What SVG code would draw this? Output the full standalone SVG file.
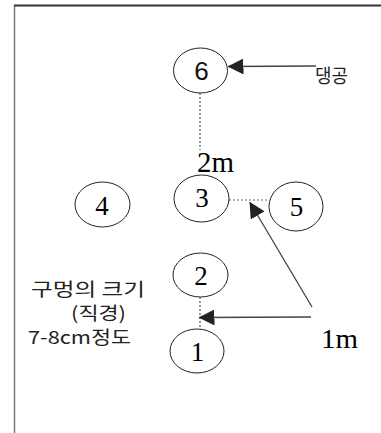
<svg xmlns="http://www.w3.org/2000/svg" width="381" height="433" viewBox="0 0 381 433">
<defs>
<style>
.node ellipse{fill:#fff;stroke:#222;stroke-width:1}
.num{font-family:"Liberation Serif",serif;font-size:27px;fill:#000;text-anchor:middle}
.sans{font-family:"Liberation Sans","Noto Sans CJK KR",sans-serif;fill:#111}
.kr{font-family:"Noto Sans CJK KR","Liberation Sans",sans-serif;fill:#222;font-size:18px}
.arrow{stroke:#444;stroke-width:1.3;fill:none}
.dot{stroke:#333;stroke-width:1;stroke-dasharray:2 2;fill:none}
.dotg{stroke:#999;stroke-width:1.5;stroke-dasharray:2 2;fill:none}
</style>
<marker id="ah" viewBox="0 0 16 16" refX="15" refY="8" markerWidth="16" markerHeight="16" markerUnits="userSpaceOnUse" orient="auto">
<path d="M0,0 L16,8 L0,16 Z" fill="#222"/>
</marker>
</defs>
<rect width="381" height="433" fill="#fff"/>
<g id="frame">
<line x1="14.5" y1="5" x2="14.5" y2="433" stroke="#777" stroke-width="1.5"/>
<line x1="14" y1="5.5" x2="381" y2="5.5" stroke="#333" stroke-width="2"/>
</g>
<g id="connectors">
<line class="dot" x1="200" y1="93" x2="200" y2="150"/>
<line class="dotg" x1="229" y1="200" x2="269" y2="200"/>
<line class="dot" x1="200" y1="297" x2="200" y2="329"/>
<line class="arrow" x1="316" y1="66" x2="228.5" y2="66.5" marker-end="url(#ah)"/>
<line class="arrow" x1="311" y1="317" x2="199.5" y2="317.5" marker-end="url(#ah)"/>
<line class="arrow" x1="312" y1="307" x2="250" y2="202.5" marker-end="url(#ah)"/>
</g>
<g id="node6" class="node"><ellipse cx="200.5" cy="70.5" rx="27" ry="22.5"/><text x="201.5" y="79.5" class="sans" style="font-size:26px" text-anchor="middle">6</text></g>
<g id="node3" class="node"><ellipse cx="201.5" cy="198.5" rx="27.5" ry="23.5"/><text x="202" y="206.5" class="num">3</text></g>
<g id="node4" class="node"><ellipse cx="102.5" cy="204.5" rx="27.5" ry="22.5"/><text x="102" y="215" class="num">4</text></g>
<g id="node5" class="node"><ellipse cx="296" cy="206.5" rx="27" ry="24.5"/><text x="296.5" y="216" class="num">5</text></g>
<g id="node2" class="node"><ellipse cx="200.5" cy="275" rx="27.5" ry="22"/><text x="201" y="285" class="num">2</text></g>
<g id="node1" class="node"><ellipse cx="197" cy="351" rx="27" ry="22"/><text x="197.5" y="361" class="num">1</text></g>
<g id="labels">
<text x="315" y="83" class="kr" style="font-size:19px" textLength="33" lengthAdjust="spacingAndGlyphs">댕공</text>
<text x="197" y="171.5" style="font-family:'Liberation Serif',serif;font-size:29px" textLength="37" lengthAdjust="spacingAndGlyphs">2m</text>
<text x="321" y="348" style="font-family:'Liberation Serif',serif;font-size:28px" textLength="37" lengthAdjust="spacingAndGlyphs">1m</text>
<text x="31" y="296" class="kr" textLength="114" lengthAdjust="spacingAndGlyphs">구멍의 크기</text>
<text x="71" y="320" class="kr" textLength="55" lengthAdjust="spacingAndGlyphs">(직경)</text>
<text x="28" y="344" class="kr" textLength="103" lengthAdjust="spacingAndGlyphs">7-8cm정도</text>
</g>
</svg>
